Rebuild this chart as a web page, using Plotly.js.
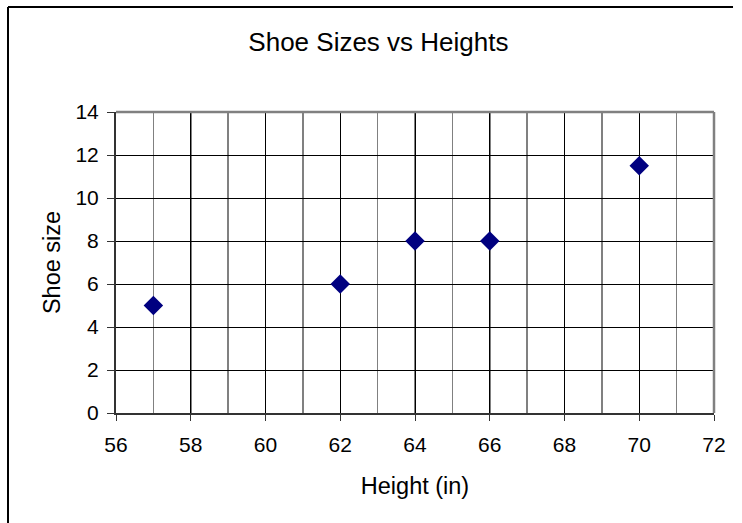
<!DOCTYPE html>
<html>
<head>
<meta charset="utf-8">
<script src="https://cdn.plot.ly/plotly-3.0.1.min.js"></script>
<style>html,body{margin:0;padding:0;background:#fff;}#chart{width:742px;height:523px;}</style>
</head>
<body>
<div id="chart"></div>
<script>
const heights = [57, 62, 64, 66, 70];
const shoeSizes = [5, 6, 8, 8, 11.5];
const xTicks = [56, 58, 60, 62, 64, 66, 68, 70, 72];
const yTicks = [0, 2, 4, 6, 8, 10, 12, 14];

const fontFam = 'Liberation Sans, Arial, sans-serif';

const trace = {
  x: heights, y: shoeSizes, type: 'scatter', mode: 'markers',
  marker: {symbol: 'diamond', size: 15, color: '#000080', line: {width: 0}},
  hoverinfo: 'x+y', cliponaxis: false
};

const layout = {
  width: 742, height: 523,
  margin: {l: 116, r: 28, t: 112, b: 110},
  paper_bgcolor: '#fff', plot_bgcolor: '#fff',
  showlegend: false,
  font: {family: fontFam, color: '#000'},
  title: {text: 'Shoe Sizes vs Heights', font: {size: 26, family: fontFam, color: '#000'},
          x: 0.51, xanchor: 'center', y: 0.92, yanchor: 'middle'},
  xaxis: {
    range: [56, 72], tickvals: xTicks, ticktext: xTicks.map(String),
    showgrid: true, gridcolor: '#000', gridwidth: 1,
    minor: {dtick: 1, tick0: 56, showgrid: true, gridcolor: '#808080', gridwidth: 1.5, ticks: ''},
    showline: true, linecolor: '#333', linewidth: 2,
    ticks: 'outside', ticklen: 6, tickcolor: '#333', tickwidth: 1,
    tickfont: {size: 21, family: fontFam, color: '#000'},
    ticklabelstandoff: 6,
    zeroline: false, fixedrange: true,
    title: {text: 'Height (in)', font: {size: 23.5, family: fontFam, color: '#000'}, standoff: 22}
  },
  yaxis: {
    range: [0, 14], tickvals: yTicks, ticktext: yTicks.map(String),
    showgrid: true, gridcolor: '#000', gridwidth: 1,
    showline: true, linecolor: '#333', linewidth: 2,
    ticks: 'outside', ticklen: 7, tickcolor: '#333', tickwidth: 1,
    tickfont: {size: 21, family: fontFam, color: '#000'},
    ticklabelstandoff: 4,
    zeroline: false, fixedrange: true,
    title: {text: 'Shoe size', font: {size: 23.5, family: fontFam, color: '#000'}, standoff: 8}
  },
  shapes: [
    {type: 'line', xref: 'x domain', yref: 'y domain', x0: 0, x1: 1, y0: 1, y1: 1,
     line: {color: '#808080', width: 2.5}, layer: 'above'},
    {type: 'line', xref: 'x domain', yref: 'y domain', x0: 1, x1: 1, y0: 0, y1: 1,
     line: {color: '#808080', width: 2.5}, layer: 'above'},
    {type: 'line', xref: 'paper', yref: 'paper', x0: -0.1806, x1: -0.1806, y0: 1.349, y1: -0.37,
     line: {color: '#000', width: 2}},
    {type: 'line', xref: 'paper', yref: 'paper', x0: -0.1806, x1: 1.0318, y0: 1.349, y1: 1.349,
     line: {color: '#000', width: 2}}
  ]
};

Plotly.newPlot('chart', [trace], layout, {displayModeBar: false, staticPlot: true});
</script>
</body>
</html>
